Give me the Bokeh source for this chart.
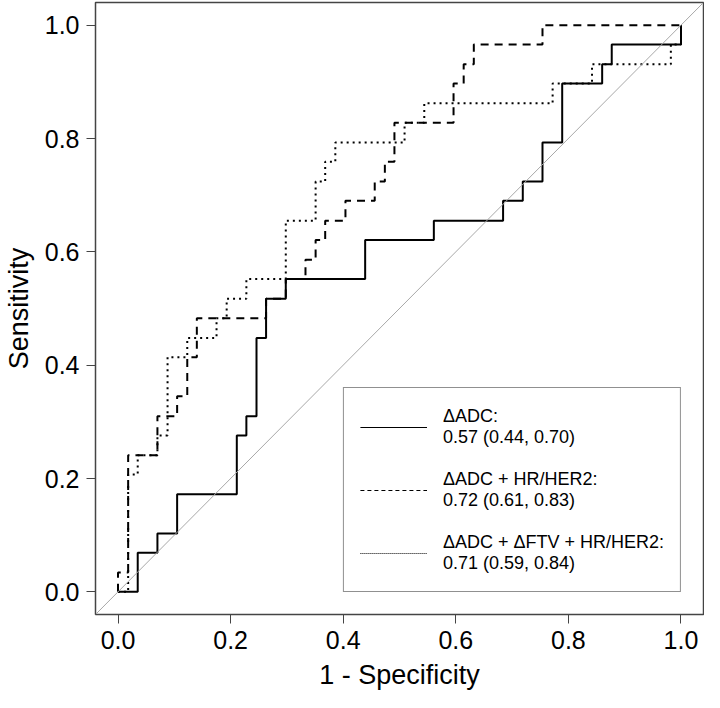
from bokeh.plotting import figure
from bokeh.models import Range1d, FixedTicker, NumeralTickFormatter, Slope, Legend, LegendItem
from bokeh.embed import file_html
from bokeh.resources import INLINE

# ROC corner points (1 - specificity, sensitivity)
fpr_adc = [0.0, 0.035, 0.070, 0.105, 0.211, 0.228, 0.246, 0.263, 0.298, 0.439,
           0.561, 0.684, 0.719, 0.754, 0.789, 0.860, 0.877, 1.0]
tpr_adc = [0.0, 0.069, 0.103, 0.172, 0.276, 0.310, 0.448, 0.517, 0.552, 0.621,
           0.655, 0.690, 0.724, 0.793, 0.897, 0.931, 0.966, 1.0]

fpr_hr = [0.0, 0.0, 0.018, 0.070, 0.105, 0.123, 0.140, 0.263, 0.298, 0.333, 0.351,
          0.368, 0.404, 0.456, 0.474, 0.491, 0.596, 0.614, 0.632, 0.754, 1.0]
tpr_hr = [0.0, 0.034, 0.241, 0.310, 0.345, 0.414, 0.483, 0.517, 0.552, 0.586, 0.621,
          0.655, 0.690, 0.724, 0.759, 0.828, 0.897, 0.931, 0.966, 1.0, 1.0]

fpr_ftv = [0.0, 0.018, 0.035, 0.070, 0.088, 0.123, 0.175, 0.193, 0.228, 0.298,
           0.351, 0.368, 0.386, 0.509, 0.544, 0.772, 0.842, 0.982, 1.0]
tpr_ftv = [0.0, 0.207, 0.241, 0.276, 0.414, 0.448, 0.483, 0.517, 0.552, 0.655,
           0.724, 0.759, 0.793, 0.828, 0.862, 0.897, 0.931, 0.966, 1.0]

tick_values = [0.0, 0.2, 0.4, 0.6, 0.8, 1.0]

legend_labels = [
    "\u0394ADC:\n0.57 (0.44, 0.70)",
    "\u0394ADC + HR/HER2:\n0.72 (0.61, 0.83)",
    "\u0394ADC + \u0394FTV + HR/HER2:\n0.71 (0.59, 0.84)",
]

FONT = "Liberation Sans"
EDGE = "#444444"
NAN = float("nan")

p = figure(width=704, height=692, output_backend="svg", toolbar_location=None,
           x_range=Range1d(-0.04, 1.04), y_range=Range1d(-0.04, 1.04),
           min_border_top=2, min_border_right=1, min_border_left=60, min_border_bottom=60,
           background_fill_color="white", border_fill_color="white")
p.grid.visible = False
p.outline_line_color = EDGE
p.outline_line_width = 1.5

for ax in (p.xaxis[0], p.yaxis[0]):
    ax.ticker = FixedTicker(ticks=tick_values)
    ax.formatter = NumeralTickFormatter(format="0.0")
    ax.axis_line_color = None
    ax.major_tick_line_color = EDGE
    ax.major_tick_line_width = 1
    ax.major_tick_out = 9
    ax.major_tick_in = 0
    ax.minor_tick_line_color = None
    ax.major_label_text_font = FONT
    ax.major_label_text_font_size = "25px"
    ax.major_label_text_color = "black"
    ax.major_label_standoff = 7
    ax.axis_label_text_font = FONT
    ax.axis_label_text_font_size = "27px"
    ax.axis_label_text_font_style = "normal"
    ax.axis_label_text_color = "black"

p.xaxis.axis_label = "1 - Specificity"
p.yaxis.axis_label = "Sensitivity"
p.xaxis.axis_label_standoff = 8
p.yaxis.axis_label_standoff = 8

# diagonal reference line
p.add_layout(Slope(gradient=1, y_intercept=0, line_color="#a8a8a8", line_width=1))

p.step(fpr_adc, tpr_adc, mode="after", line_color="black", line_width=2)
p.step(fpr_hr, tpr_hr, mode="after", line_color="black", line_width=2, line_dash="8 6")
p.step(fpr_ftv, tpr_ftv, mode="after", line_color="black", line_width=2, line_dash="2 4")

# thin sample lines for the legend (nothing drawn in the plot area)
l1 = p.line([NAN], [NAN], line_color="black", line_width=1.2)
l2 = p.line([NAN], [NAN], line_color="black", line_width=1.2, line_dash="4 3")
l3 = p.line([NAN], [NAN], line_color="black", line_width=1.2, line_dash="1 1")

legend = Legend(items=[LegendItem(label=legend_labels[0], renderers=[l1]),
                       LegendItem(label=legend_labels[1], renderers=[l2]),
                       LegendItem(label=legend_labels[2], renderers=[l3])],
                location="bottom_right", margin=22, padding=16, spacing=18,
                glyph_width=67, glyph_height=20, label_standoff=16, label_height=45,
                label_text_font=FONT, label_text_font_size="18px",
                label_text_line_height=1.28, label_text_color="black",
                border_line_color="#222222", border_line_width=1.5,
                background_fill_color="white", background_fill_alpha=1.0)
p.add_layout(legend)

open("out.html", "w").write(file_html(p, INLINE))
